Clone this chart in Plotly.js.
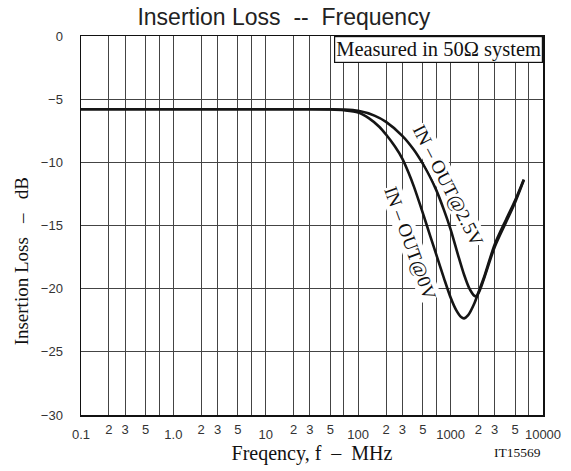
<!DOCTYPE html>
<html>
<head>
<meta charset="utf-8">
<script src="https://cdn.plot.ly/plotly-3.0.1.min.js"></script>
<style>html,body{margin:0;padding:0;background:#fff;}#chart{width:571px;height:471px;}</style>
</head>
<body>
<div id="chart"></div>
<script>
// ---- data (frequency in MHz, insertion loss in dB) ----
var freq0V   = [0.1, 1, 10, 30, 50, 70, 100, 130, 170, 200, 250, 300, 350, 400, 500, 600, 700, 850, 1000, 1150, 1300, 1400, 1550, 1800, 2000, 2300, 3000, 4000, 5000, 6200];
var loss0V   = [-5.8, -5.8, -5.8, -5.8, -5.82, -5.88, -6.05, -6.5, -7.2, -7.8, -8.75, -9.7, -10.8, -11.9, -14.0, -15.8, -17.3, -19.2, -20.7, -21.7, -22.25, -22.35, -22.1, -21.2, -20.3, -19.1, -16.5, -14.5, -13.0, -11.35];
var freq25V  = [0.1, 1, 10, 30, 50, 70, 100, 150, 200, 300, 400, 500, 600, 700, 850, 1000, 1200, 1400, 1600, 1800, 1900, 2050, 2300, 3000, 4000, 5000, 6200];
var loss25V  = [-5.8, -5.8, -5.8, -5.8, -5.8, -5.82, -5.92, -6.3, -6.8, -7.9, -9.0, -10.1, -11.15, -12.2, -13.8, -15.3, -17.3, -18.9, -20.0, -20.55, -20.6, -20.2, -19.2, -16.7, -14.7, -13.15, -11.4];

var majorTicks  = [0.1, 1, 10, 100, 1000, 10000];
var majorLabels = ["0.1", "1.0", "10", "100", "1000", "10000"];
var minorMult   = [2, 3, 5, 7];
var minorLabels = ["2", "3", "5", ""];
var yTicks      = [0, -5, -10, -15, -20, -25, -30];

var minorVals = [], minorText = [];
for (var d = -1; d <= 3; d++) {
  for (var i = 0; i < minorMult.length; i++) {
    minorVals.push(minorMult[i] * Math.pow(10, d));
    minorText.push(minorLabels[i]);
  }
}

var lineStyle = {color: '#151515', width: 2.6, shape: 'spline', smoothing: 0.8};
var traces = [
  {x: freq0V, y: loss0V, type: 'scatter', mode: 'lines', line: lineStyle, hoverinfo: 'skip', showlegend: false},
  {x: freq25V, y: loss25V, type: 'scatter', mode: 'lines', line: lineStyle, hoverinfo: 'skip', showlegend: false},
  {x: [0.1], y: [-40], xaxis: 'x2', type: 'scatter', mode: 'markers', showlegend: false, hoverinfo: 'skip'}
];

var serif = 'Liberation Serif, Times New Roman, serif';
var sans = 'Liberation Sans, Arial, sans-serif';
var gridC = '#444';

var layout = {
  width: 571, height: 471,
  margin: {l: 81, r: 28, t: 36, b: 56},
  paper_bgcolor: '#fff', plot_bgcolor: '#fff',
  title: {text: 'Insertion Loss  --  Frequency', font: {family: sans, size: 23, color: '#222'},
          xref: 'container', x: 0.497, xanchor: 'center', yref: 'container', y: 0.963, yanchor: 'middle'},
  xaxis: {
    type: 'log', range: [-1, 4], tickmode: 'array', tickvals: majorTicks, ticktext: majorLabels,
    showgrid: true, gridcolor: gridC, gridwidth: 1, ticks: '', ticklabelstandoff: 7,
    tickfont: {family: sans, size: 13, color: '#333'},
    showline: true, linecolor: '#111', linewidth: 1.5, mirror: true, zeroline: false,
    title: {text: 'Freqency, f\u00a0\u00a0–\u00a0\u00a0MHz', font: {family: serif, size: 20, color: '#111'}, standoff: 5}
  },
  xaxis2: {
    type: 'log', range: [-1, 4], overlaying: 'x', side: 'bottom', tickmode: 'array', tickvals: minorVals, ticktext: minorText,
    showgrid: true, gridcolor: gridC, gridwidth: 1, ticks: '', ticklabelstandoff: 5,
    tickfont: {family: sans, size: 13, color: '#333'}, showline: false, zeroline: false
  },
  yaxis: {
    range: [-30, 0], tickmode: 'array', tickvals: yTicks,
    showgrid: true, gridcolor: gridC, gridwidth: 1, ticks: '', ticklabelstandoff: 14,
    tickfont: {family: sans, size: 13, color: '#333'},
    showline: true, linecolor: '#111', linewidth: 1.5, mirror: true, zeroline: false
  },
  annotations: [
    {text: 'Insertion Loss\u00a0\u00a0\u00a0–\u00a0\u00a0\u00a0dB', textangle: -90, xref: 'paper', yref: 'paper',
     x: -0.128, y: 0.405, xanchor: 'center', yanchor: 'middle', showarrow: false,
     font: {family: serif, size: 19, color: '#111'}},
    {text: 'Measured in 50Ω system', xref: 'paper', yref: 'paper', x: 1, y: 1, xanchor: 'right', yanchor: 'top',
     showarrow: false, bgcolor: '#fff', bordercolor: '#111', borderwidth: 1.2, borderpad: 1,
     font: {family: serif, size: 20.5, color: '#111'}},
    {text: 'IN\u00a0–\u00a0OUT@2.5V', xref: 'x', yref: 'y', x: Math.log10(950), y: -11.8, textangle: 63,
     showarrow: false, bgcolor: '#fff', borderpad: 0, font: {family: serif, size: 19, color: '#111'}},
    {text: 'IN\u00a0–\u00a0OUT@0V', xref: 'x', yref: 'y', x: Math.log10(370), y: -16.4, textangle: 70,
     showarrow: false, bgcolor: '#fff', borderpad: 0, font: {family: serif, size: 19, color: '#111'}},
    {text: 'IT15569', xref: 'paper', yref: 'paper', x: 1, y: -0.1, xanchor: 'right', yanchor: 'middle',
     showarrow: false, font: {family: serif, size: 13.5, color: '#111'}}
  ]
};

Plotly.newPlot('chart', traces, layout, {staticPlot: true, displayModeBar: false});
</script>
</body>
</html>
